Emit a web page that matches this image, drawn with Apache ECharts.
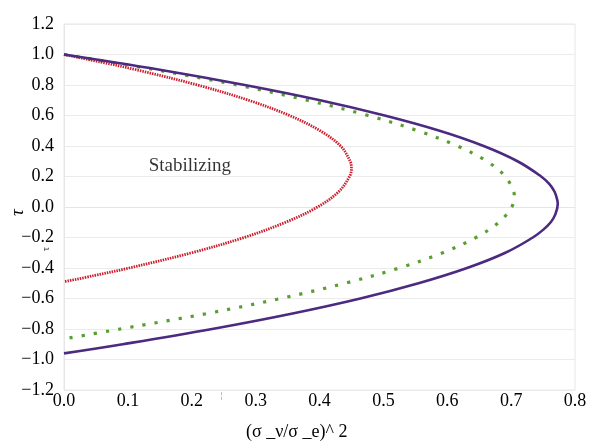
<!DOCTYPE html>
<html>
<head>
<meta charset="utf-8">
<script src="https://cdn.jsdelivr.net/npm/echarts@6/dist/echarts.min.js"></script>
<style>html,body{margin:0;padding:0;background:#fff}#c{width:595px;height:447px}</style>
</head>
<body>
<div id="c"></div>
<script>
// Axis ticks
const xTicks = [0.0, 0.1, 0.2, 0.3, 0.4, 0.5, 0.6, 0.7, 0.8];
const yTicks = [-1.2, -1.0, -0.8, -0.6, -0.4, -0.2, 0.0, 0.2, 0.4, 0.6, 0.8, 1.0, 1.2];

// Purple solid curve (x, tau)
const purpleX   = [0.000, 0.150, 0.283, 0.401, 0.502, 0.588, 0.657, 0.710, 0.747, 0.760, 0.768, 0.772, 0.773, 0.769, 0.762, 0.750, 0.734, 0.691, 0.631, 0.555, 0.464, 0.356, 0.232, 0.092, 0.000];
const purpleTau = [1.000, 0.900, 0.800, 0.700, 0.600, 0.500, 0.400, 0.300, 0.200, 0.150, 0.100, 0.050, 0.020, -0.050, -0.100, -0.150, -0.200, -0.300, -0.400, -0.500, -0.600, -0.700, -0.800, -0.900, -0.960];

// Green sparse-dotted curve
const greenX   = [0.000, 0.143, 0.271, 0.381, 0.476, 0.554, 0.616, 0.662, 0.691, 0.704, 0.705, 0.701, 0.681, 0.645, 0.593, 0.525, 0.440, 0.339, 0.222, 0.088, 0.000];
const greenTau = [1.000, 0.900, 0.800, 0.700, 0.600, 0.500, 0.400, 0.300, 0.200, 0.100, 0.070, 0.000, -0.100, -0.200, -0.300, -0.400, -0.500, -0.600, -0.700, -0.800, -0.865];

// Red dense-dotted curve
const redX   = [0.000, 0.058, 0.113, 0.209, 0.289, 0.353, 0.401, 0.433, 0.448, 0.450, 0.447, 0.430, 0.397, 0.347, 0.282, 0.200, 0.102, 0.047, 0.000];
const redTau = [1.000, 0.950, 0.900, 0.800, 0.700, 0.600, 0.500, 0.400, 0.300, 0.250, 0.200, 0.100, 0.000, -0.100, -0.200, -0.300, -0.400, -0.450, -0.490];

const annotation = { text: 'Stabilizing', x: 0.197, tau: 0.269 };

function pairs(xs, ys) { return xs.map((x, i) => [x, ys[i]]); }

const chart = echarts.init(document.getElementById('c'), null, { renderer: 'canvas' });
const serif = '"Liberation Serif", "DejaVu Serif", serif';
const fmt = v => (Math.round(v * 10) / 10).toFixed(1).replace('-', '\u2212');

chart.setOption({
  animation: false,
  backgroundColor: '#fff',
  grid: { left: 64, right: 20, top: 24, bottom: 57, containLabel: false, outerBoundsMode: 'none',
          show: true, borderColor: '#e6e6e6', borderWidth: 1 },
  xAxis: {
    type: 'value', min: xTicks[0], max: xTicks[xTicks.length - 1], interval: 0.1,
    axisLine: { show: true, lineStyle: { color: '#e6e6e6' } },
    axisTick: { show: false },
    splitLine: { show: false },
    axisLabel: { color: '#000', fontFamily: serif, fontSize: 18, margin: 2, formatter: fmt }
  },
  yAxis: {
    type: 'value', min: yTicks[0], max: yTicks[yTicks.length - 1], interval: 0.2,
    axisLine: { show: true, lineStyle: { color: '#e6e6e6' } },
    axisTick: { show: false },
    splitLine: { show: true, lineStyle: { color: '#ebebeb' } },
    axisLabel: { color: '#000', fontFamily: serif, fontSize: 18, margin: 10, formatter: fmt }
  },
  graphic: [
    { type: 'text', left: 246, top: 423,
      style: { text: '(\u03c3 _\u03bd/\u03c3 _e)^ 2', fill: '#000', font: '18px "Liberation Serif", serif' } },
    { type: 'text', x: 8, y: 216, rotation: Math.PI / 2,
      style: { text: '\u03c4', fill: '#000', font: 'italic 19px "Liberation Serif", serif' } },
    { type: 'text', x: 41, y: 251, rotation: Math.PI / 2,
      style: { text: '\u03c4', fill: '#222', font: '10px "Liberation Serif", serif' } },
    { type: 'text', x: 220, y: 391,
      style: { text: '\u00a6', fill: '#aaa', font: '9px "DejaVu Sans", sans-serif' } }
  ],
  series: [
    {
      type: 'line', data: pairs(purpleX, purpleTau), smooth: 0.4, showSymbol: false,
      lineStyle: { color: '#4b2a80', width: 2.6 }, z: 3
    },
    {
      type: 'line', data: pairs(greenX, greenTau), smooth: 0.35, showSymbol: false,
      lineStyle: { color: '#5a9e30', width: 3.2, type: [3.2, 9.1] }, z: 2
    },
    {
      type: 'line', data: pairs(redX, redTau), smooth: 0.35, showSymbol: false,
      lineStyle: { color: '#cc1f2d', width: 2.8, type: [1.5, 1.0] }, z: 2
    },
    {
      type: 'scatter', data: [[annotation.x, annotation.tau]], symbolSize: 0,
      label: { show: true, position: 'inside', formatter: annotation.text, color: '#000',
               fontFamily: serif, fontSize: 19 },
      silent: true, z: 4
    }
  ]
});
</script>
</body>
</html>
